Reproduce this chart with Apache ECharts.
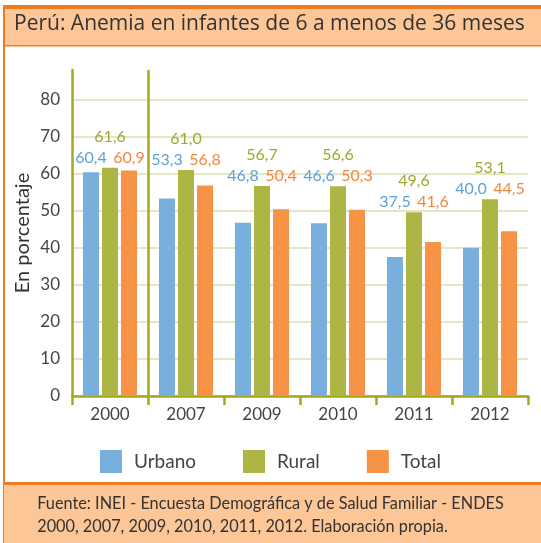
<!DOCTYPE html>
<html>
<head>
<meta charset="utf-8">
<script src="https://cdn.jsdelivr.net/npm/echarts@6/dist/echarts.min.js"></script>
<style>
  html, body { margin: 0; padding: 0; background: #fff; }
  #main { width: 541px; height: 543px; }
</style>
</head>
<body>
<div id="main"></div>
<script>
var years = ['2000', '2007', '2009', '2010', '2011', '2012'];
var urbano = [60.4, 53.3, 46.8, 46.6, 37.5, 40.0];
var rural = [61.6, 61.0, 56.7, 56.6, 49.6, 53.1];
var total = [60.9, 56.8, 50.4, 50.3, 41.6, 44.5];

var FONT = 'Lato';
var OLIVE = '#a3a81e';
var C_URB = '#79afdc', C_RUR = '#adb544', C_TOT = '#f79346';

function fmt(v) { return v.toFixed(1).replace('.', ','); }

var myChart = echarts.init(document.getElementById('main'));

// carrier bars sit at the rural height so all labels of a group line up
function carrier(name, values, color, dist) {
  return {
    name: name,
    type: 'bar',
    xAxisIndex: 1,
    data: rural,
    barWidth: 16,
    barGap: '19%',
    silent: true,
    itemStyle: { color: 'transparent' },
    label: {
      show: true,
      position: 'top',
      distance: dist,
      color: color,
      fontFamily: FONT,
      fontSize: 16,
      formatter: function (p) { return fmt(values[p.dataIndex]); }
    }
  };
}

function bars(name, values, color) {
  return {
    name: name,
    type: 'bar',
    data: values,
    barWidth: 16,
    barGap: '19%',
    itemStyle: { color: color }
  };
}

var option = {
  animation: false,
  textStyle: { fontFamily: FONT },
  graphic: [
    { type: 'rect', shape: { x: 4, y: 5, width: 541, height: 41 }, style: { fill: '#fcc697' }, z: -1 },
    { type: 'rect', shape: { x: 4, y: 5, width: 541, height: 4 }, style: { fill: '#f07c22' }, z: -1 },
    { type: 'rect', shape: { x: 4, y: 45, width: 541, height: 1.5 }, style: { fill: '#f07c22' }, z: -1 },
    { type: 'rect', shape: { x: 3, y: 5, width: 2, height: 540 }, style: { fill: '#f07c22' }, z: -1 },
    { type: 'rect', shape: { x: 4, y: 482, width: 541, height: 62 }, style: { fill: '#fcc697' }, z: -1 },
    { type: 'rect', shape: { x: 4, y: 482, width: 541, height: 3 }, style: { fill: '#f07c22' }, z: -1 },
    {
      type: 'text', left: 14, top: 14,
      style: { text: 'Perú: Anemia en infantes de 6 a menos de 36 meses', fill: '#333', font: '21px "Open Sans"' }
    },
    {
      type: 'text', left: 'center', top: 492,
      style: {
        text: 'Fuente: INEI - Encuesta Demográfica y de Salud Familiar - ENDES\n2000, 2007, 2009, 2010, 2011, 2012. Elaboración propia.',
        fill: '#333', font: '16.3px ' + FONT, align: 'center', lineHeight: 23
      }
    }
  ],
  legend: {
    data: ['Urbano', 'Rural', 'Total'],
    bottom: 65,
    left: 'center',
    itemWidth: 22,
    itemHeight: 23,
    itemGap: 47,
    icon: 'rect',
    textStyle: { fontSize: 19, color: '#444', fontFamily: FONT, padding: [0, 0, 0, 7] }
  },
  grid: { left: 72, right: 13, top: 70, bottom: 147 },
  xAxis: [
    {
      type: 'category',
      data: years,
      axisLine: { lineStyle: { color: OLIVE, width: 2.5 } },
      axisTick: { show: true, length: 9, lineStyle: { color: OLIVE, width: 2.5 } },
      axisLabel: { color: '#444', fontSize: 17, margin: 10 }
    },
    { type: 'category', data: years, show: false },
    { type: 'value', min: 0, max: 6, show: false }
  ],
  yAxis: {
    type: 'value',
    min: 0,
    max: 88,
    interval: 10,
    name: 'En porcentaje',
    nameLocation: 'middle',
    nameGap: 39,
    nameMoveOverlap: false,
    nameTextStyle: { fontSize: 20, color: '#333', fontFamily: FONT },
    axisLine: { show: true, lineStyle: { color: OLIVE, width: 2.5 } },
    axisTick: { show: false },
    axisLabel: { color: '#444', fontSize: 17, margin: 12, showMaxLabel: false },
    splitLine: { showMaxLine: false, lineStyle: { color: '#e4e6c4', width: 2 } }
  },
  series: [
    bars('Urbano', urbano, C_URB),
    bars('Rural', rural, C_RUR),
    bars('Total', total, C_TOT),
    carrier('_urbano', urbano, '#5fa2d8', 2),
    carrier('_rural', rural, '#9fa82c', 23),
    carrier('_total', total, '#f28640', 2),
    {
      type: 'line',
      xAxisIndex: 2,
      data: [],
      silent: true,
      markLine: {
        symbol: 'none',
        silent: true,
        label: { show: false },
        lineStyle: { color: OLIVE, width: 2.5, type: 'solid' },
        data: [{ xAxis: 1 }]
      }
    }
  ]
};

myChart.setOption(option);
</script>
</body>
</html>
